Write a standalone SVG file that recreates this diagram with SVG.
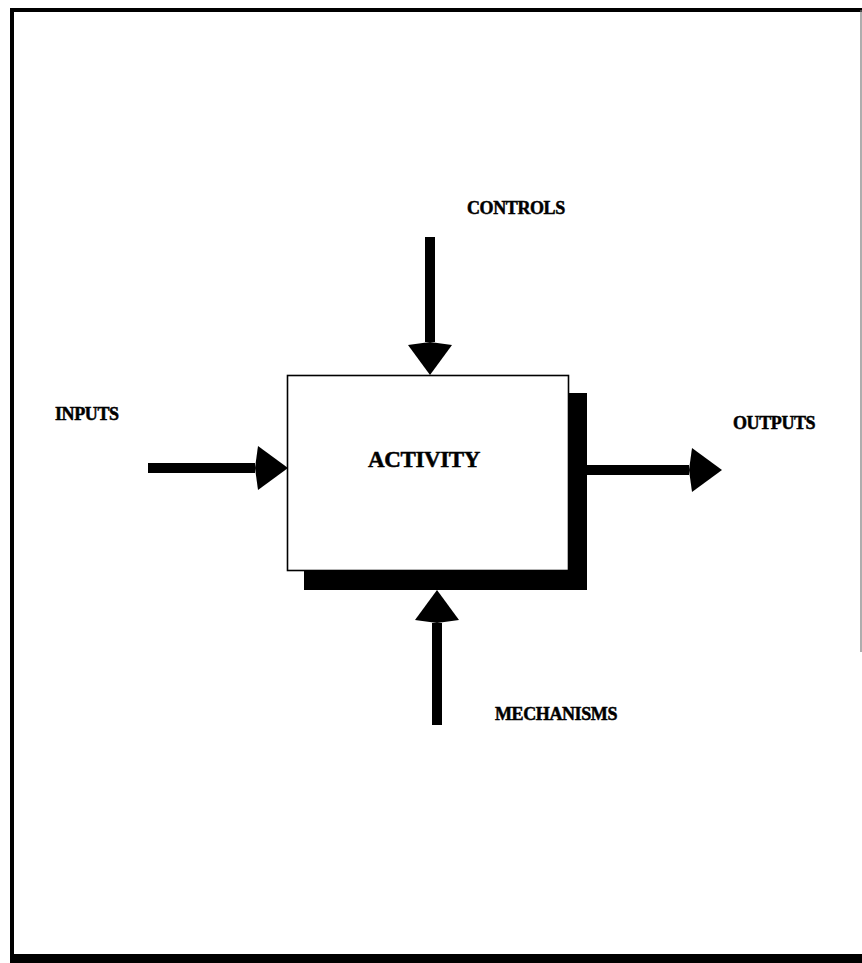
<svg xmlns="http://www.w3.org/2000/svg" width="862" height="963" viewBox="0 0 862 963">
  <style>
    .lbl { font-family: "Liberation Serif", "Times New Roman", serif; font-weight: bold; font-size: 18px; fill: #000; stroke: #000; stroke-width: 0.5; letter-spacing: -0.4px; }
    .shaft { stroke: #000; stroke-width: 10; fill: none; marker-end: url(#head); }
    .frame { fill: #000; }
  </style>
  <defs>
    <marker id="head" markerUnits="userSpaceOnUse" markerWidth="36" markerHeight="46" viewBox="0 0 36 46" refX="0" refY="23" orient="auto">
      <path d="M0,23 L3,1 L33,23 L3,45 Z" fill="#000"/>
    </marker>
  </defs>

  <!-- page frame -->
  <g id="frame">
    <rect class="frame" x="10" y="8" width="852" height="4"/>
    <rect class="frame" x="10" y="8" width="4" height="950"/>
    <rect class="frame" x="10" y="954" width="852" height="9"/>
    <line x1="861" y1="10" x2="861" y2="652" stroke="#777" stroke-width="1.2"/>
  </g>

  <!-- activity box with drop shadow -->
  <g id="activity">
    <rect x="304" y="393" width="283" height="197" fill="#000"/>
    <rect x="287.5" y="375.5" width="281" height="195" fill="#fff" stroke="#000" stroke-width="1.6"/>
    <text class="lbl" x="424" y="467" text-anchor="middle" style="font-size:23px">ACTIVITY</text>
  </g>

  <g id="controls">
    <text class="lbl" x="467" y="214">CONTROLS</text>
  </g>
  <g id="inputs">
    <text class="lbl" x="55" y="420">INPUTS</text>
  </g>
  <g id="outputs">
    <text class="lbl" x="733" y="429">OUTPUTS</text>
  </g>
  <g id="mechanisms">
    <text class="lbl" x="495" y="720">MECHANISMS</text>
  </g>

  <!-- connectors -->
  <g id="connectors">
    <line class="shaft" x1="430" y1="237" x2="430" y2="342"/>
    <line class="shaft" x1="148" y1="468" x2="255" y2="468"/>
    <line class="shaft" x1="587" y1="470" x2="689" y2="470"/>
    <line class="shaft" x1="437" y1="725" x2="437" y2="623"/>
  </g>
</svg>
